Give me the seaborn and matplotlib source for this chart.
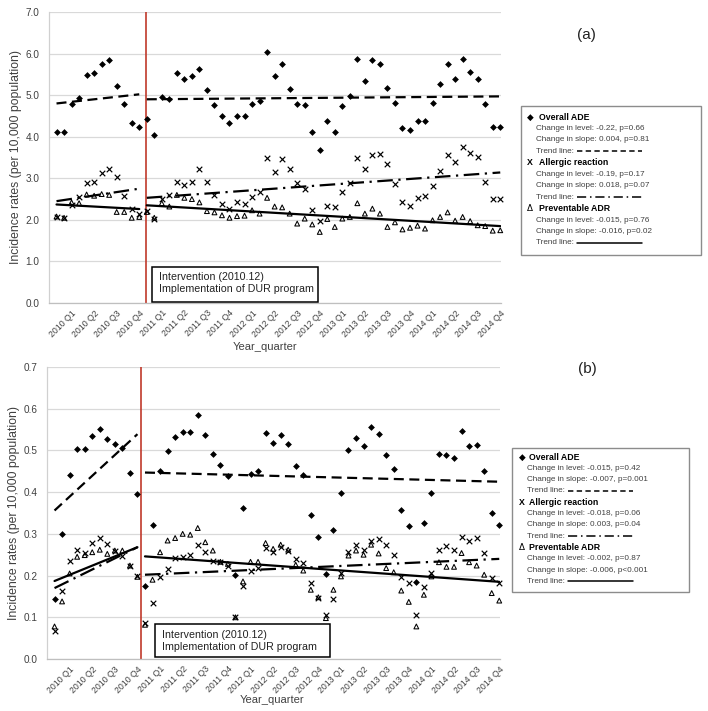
import matplotlib
matplotlib.use("Agg")
import matplotlib.pyplot as plt
import matplotlib.patches as mpatches
import seaborn as sns
import pandas as pd
import numpy as np

sns.set_theme(style="white")
plt.rcParams["font.family"] = ["Liberation Sans", "DejaVu Sans"]

# Monthly incidence rates, Jan 2010 - Dec 2014 (60 months)
quarter_labels = [f"{y} Q{q}" for y in range(2010, 2015) for q in range(1, 5)]

a_overall = [4.12, 4.11, 4.79, 4.94, 5.49, 5.53, 5.76, 5.84, 5.23, 4.78, 4.32, 4.24,
             4.42, 4.05, 4.95, 4.91, 5.53, 5.40, 5.47, 5.64, 5.13, 4.77, 4.49, 4.34,
             4.51, 4.51, 4.78, 4.86, 6.03, 5.47, 5.75, 5.14, 4.78, 4.77, 4.12, 3.68,
             4.38, 4.12, 4.73, 4.97, 5.88, 5.35, 5.84, 5.75, 5.18, 4.80, 4.20, 4.15,
             4.39, 4.37, 4.82, 5.26, 5.76, 5.40, 5.87, 5.55, 5.40, 4.78, 4.24, 4.24]
a_allergic = [2.06, 2.04, 2.35, 2.55, 2.89, 2.91, 3.13, 3.23, 3.04, 2.58, 2.27, 2.15,
              2.21, 2.03, 2.51, 2.60, 2.92, 2.84, 2.92, 3.22, 2.92, 2.60, 2.37, 2.27,
              2.42, 2.38, 2.56, 2.68, 3.50, 3.16, 3.46, 3.22, 2.88, 2.74, 2.23, 1.97,
              2.33, 2.30, 2.68, 2.89, 3.50, 3.22, 3.57, 3.59, 3.35, 2.87, 2.44, 2.34,
              2.52, 2.58, 2.82, 3.18, 3.57, 3.40, 3.76, 3.60, 3.52, 2.92, 2.50, 2.49]
a_prevent = [2.08, 2.05, 2.42, 2.40, 2.61, 2.58, 2.62, 2.60, 2.19, 2.19, 2.05, 2.07,
             2.19, 2.05, 2.40, 2.32, 2.60, 2.53, 2.50, 2.42, 2.21, 2.18, 2.11, 2.05,
             2.09, 2.10, 2.23, 2.15, 2.53, 2.32, 2.30, 2.15, 1.91, 2.03, 1.89, 1.71,
             2.02, 1.83, 2.03, 2.07, 2.40, 2.15, 2.27, 2.15, 1.83, 1.94, 1.77, 1.81,
             1.86, 1.79, 1.99, 2.07, 2.18, 1.98, 2.07, 1.97, 1.87, 1.85, 1.74, 1.75]

b_overall = [0.144, 0.300, 0.440, 0.503, 0.503, 0.535, 0.551, 0.527, 0.516, 0.506, 0.446, 0.396,
             0.174, 0.322, 0.450, 0.499, 0.532, 0.544, 0.544, 0.586, 0.538, 0.492, 0.466, 0.438,
             0.202, 0.362, 0.443, 0.451, 0.542, 0.518, 0.538, 0.516, 0.463, 0.440, 0.346, 0.292,
             0.204, 0.310, 0.398, 0.502, 0.530, 0.510, 0.555, 0.540, 0.490, 0.456, 0.356, 0.318,
             0.185, 0.326, 0.398, 0.491, 0.490, 0.483, 0.547, 0.511, 0.513, 0.451, 0.350, 0.322]
b_allergic = [0.066, 0.162, 0.236, 0.262, 0.254, 0.278, 0.290, 0.276, 0.258, 0.246, 0.224, 0.198,
              0.086, 0.134, 0.197, 0.216, 0.242, 0.244, 0.250, 0.274, 0.256, 0.236, 0.233, 0.222,
              0.101, 0.174, 0.210, 0.218, 0.266, 0.256, 0.268, 0.258, 0.240, 0.229, 0.182, 0.146,
              0.105, 0.144, 0.205, 0.256, 0.274, 0.262, 0.284, 0.288, 0.274, 0.250, 0.197, 0.182,
              0.105, 0.173, 0.205, 0.262, 0.272, 0.262, 0.292, 0.282, 0.290, 0.253, 0.194, 0.182]
b_prevent = [0.078, 0.138, 0.205, 0.245, 0.249, 0.256, 0.262, 0.252, 0.260, 0.260, 0.224, 0.197,
             0.082, 0.190, 0.256, 0.284, 0.290, 0.300, 0.298, 0.314, 0.280, 0.260, 0.233, 0.228,
             0.100, 0.186, 0.233, 0.233, 0.278, 0.264, 0.274, 0.262, 0.226, 0.212, 0.166, 0.148,
             0.098, 0.166, 0.198, 0.248, 0.260, 0.250, 0.274, 0.253, 0.218, 0.208, 0.164, 0.137,
             0.078, 0.154, 0.198, 0.232, 0.221, 0.221, 0.254, 0.232, 0.224, 0.202, 0.158, 0.140]

# Segmented trend lines: (pre start, pre end, post start, post end)
a_trend_overall = [4.80, 5.02, 4.90, 4.97]
a_trend_allergic = [2.45, 2.75, 2.53, 3.14]
a_trend_prevent = [2.37, 2.26, 2.35, 1.85]
b_trend_overall = [0.356, 0.539, 0.447, 0.425]
b_trend_allergic = [0.170, 0.268, 0.202, 0.240]
b_trend_prevent = [0.187, 0.268, 0.246, 0.185]

a_stats = [["Change in level: -0.22, p=0.66", "Change in slope: 0.004, p=0.81"],
           ["Change in level: -0.19, p=0.17", "Change in slope: 0.018, p=0.07"],
           ["Change in level: -0.015, p=0.76", "Change in slope: -0.016, p=0.02"]]
b_stats = [["Change in level: -0.015, p=0.42", "Change in slope: -0.007, p=0.001"],
           ["Change in level: -0.018, p=0.06", "Change in slope: 0.003, p=0.04"],
           ["Change in level: -0.002, p=0.87", "Change in slope: -0.006, p<0.001"]]

W, H = 708, 711
TXT = "#404040"
DASH = (0, (4.5, 2.5))
DASHDOT = (0, (7, 2.5, 1, 2.5))


def fx(px):
    return px / W


def fy(py):
    return 1 - py / H


def draw_panel(ax, overall, allergic, prevent, trends, ymax, ystep, red_x):
    months = np.arange(len(overall))
    df = pd.DataFrame({"month": months, "overall": overall,
                       "allergic": allergic, "prevent": prevent})

    ax.set_axisbelow(True)
    ax.yaxis.grid(True, color="#d9d9d9", lw=0.9)
    ax.xaxis.grid(False)

    for col, ls in zip(["overall", "allergic", "prevent"], [DASH, DASHDOT, "-"]):
        t = trends[col]
        sns.lineplot(x=[0, 11], y=[t[0], t[1]], ax=ax, color="black", lw=1.6,
                     linestyle=ls, zorder=3)
        sns.lineplot(x=[12, 59], y=[t[2], t[3]], ax=ax, color="black", lw=1.6,
                     linestyle=ls, zorder=3)

    sns.scatterplot(data=df, x="month", y="overall", ax=ax, marker="D", s=12,
                    color="black", linewidth=0, zorder=4, clip_on=False)
    sns.scatterplot(data=df, x="month", y="allergic", ax=ax, marker="x", s=16,
                    color="black", linewidth=0.85, zorder=4, clip_on=False)
    sns.scatterplot(data=df, x="month", y="prevent", ax=ax, marker="^", s=12,
                    facecolor="none", edgecolor="black", linewidth=0.75, zorder=4,
                    clip_on=False)

    ax.axvline(red_x, color="#c0392b", lw=1.2, zorder=2)

    ax.set_xlim(-1, 59.1)
    ax.set_ylim(0, ymax)
    yt = np.arange(0, ymax + ystep / 2, ystep)
    ax.set_yticks(yt)
    ax.set_yticklabels([f"{v:.1f}" for v in yt])
    ax.set_xticks(np.arange(2, 60, 3))
    ax.set_xticklabels(quarter_labels, rotation=45, ha="right", va="top",
                       rotation_mode="anchor")
    ax.tick_params(axis="both", length=0, colors=TXT)
    ax.tick_params(axis="y", pad=7, labelsize=7.2)
    ax.tick_params(axis="x", pad=4, labelsize=6.3)
    ax.set_xlabel("")
    ax.set_ylabel("Incidence rates (per 10,000 population)", fontsize=8.8,
                  color=TXT, labelpad=2)
    for side in ["top", "right"]:
        ax.spines[side].set_visible(False)
    ax.spines["left"].set_color("#d0d0d0")
    ax.spines["bottom"].set_color("#bfbfbf")
    ax.spines["left"].set_linewidth(0.9)
    ax.spines["bottom"].set_linewidth(0.9)


def draw_legend(box, stats, glyph_x, head_x, sub_x, top, step):
    x0, y0, x1, y1 = box
    w, h = x1 - x0, y1 - y0
    lg = fig.add_axes([fx(x0), fy(y1), fx(w), h / H])
    lg.set_xlim(0, w)
    lg.set_ylim(h, 0)
    lg.axis("off")
    lg.add_patch(mpatches.Rectangle((0.5, 0.5), w - 1, h - 1, fill=False,
                                    ec="#8c8c8c", lw=1.0, clip_on=False))
    heads = [("\u25c6", "Overall ADE", (0, (3.5, 2.2))),
             ("X", "Allergic reaction", (0, (6, 2.5, 1, 2.5))),
             ("\u0394", "Preventable ADR", "-")]
    row = 0
    for (glyph, name, ls), (s1, s2) in zip(heads, stats):
        y = top + row * step
        if glyph == "X":
            lg.text(glyph_x, y, glyph, fontsize=6.3, fontweight="bold",
                    va="center", ha="left", color="black")
        else:
            lg.text(glyph_x, y, glyph, fontsize=6.3, va="center", ha="left",
                    color="black", family=["DejaVu Sans"])
        lg.text(head_x, y, name, fontsize=6.3, fontweight="bold", va="center",
                ha="left", color="black")
        lg.text(sub_x, y + step, s1, fontsize=5.9, va="center", ha="left", color=TXT)
        lg.text(sub_x, y + 2 * step, s2, fontsize=5.9, va="center", ha="left", color=TXT)
        lg.text(sub_x, y + 3 * step, "Trend line:", fontsize=5.9, va="center",
                ha="left", color=TXT)
        lg.plot([57, 122], [y + 3 * step, y + 3 * step], color="black", lw=1.1,
                linestyle=ls)
        row += 4


def intervention_box(x0, y0, x1, y1, tx, ty1, ty2):
    fig.add_artist(mpatches.Rectangle((fx(x0), fy(y1)), fx(x1 - x0), (y1 - y0) / H,
                                      transform=fig.transFigure, fc="white",
                                      ec="black", lw=1.1, zorder=5))
    fig.text(fx(tx), fy(ty1), "Intervention (2010.12)", fontsize=7.7,
             va="center", ha="left", color="#222222", zorder=6)
    fig.text(fx(tx), fy(ty2), "Implementation of DUR program", fontsize=7.7,
             va="center", ha="left", color="#222222", zorder=6)


fig = plt.figure(figsize=(W / 100, H / 100), dpi=100)

ax_a = fig.add_axes([fx(49), fy(303), fx(452), 291 / H])
draw_panel(ax_a, a_overall, a_allergic, a_prevent,
           {"overall": a_trend_overall, "allergic": a_trend_allergic,
            "prevent": a_trend_prevent}, 7.0, 1.0, 11.85)

ax_b = fig.add_axes([fx(47), fy(659), fx(453), 292 / H])
draw_panel(ax_b, b_overall, b_allergic, b_prevent,
           {"overall": b_trend_overall, "allergic": b_trend_allergic,
            "prevent": b_trend_prevent}, 0.7, 0.1, 11.5)

fig.text(fx(265), fy(347), "Year_quarter", fontsize=8, ha="center", va="center", color=TXT)
fig.text(fx(272), fy(700), "Year_quarter", fontsize=8, ha="center", va="center", color=TXT)

fig.text(fx(586), fy(35), "(a)", fontsize=11, ha="center", va="center", color="#222222")
fig.text(fx(587), fy(369), "(b)", fontsize=11, ha="center", va="center", color="#222222")

intervention_box(152, 267, 318, 302, 159, 277, 289.5)
intervention_box(155, 624, 330, 657, 162, 634.5, 647)

draw_legend((520, 105, 701, 255), a_stats, 7, 19, 16, 12, 11.45)
draw_legend((511, 447, 689, 592), b_stats, 8, 18, 16, 10, 11.3)

fig.savefig("out.png", dpi=100)
